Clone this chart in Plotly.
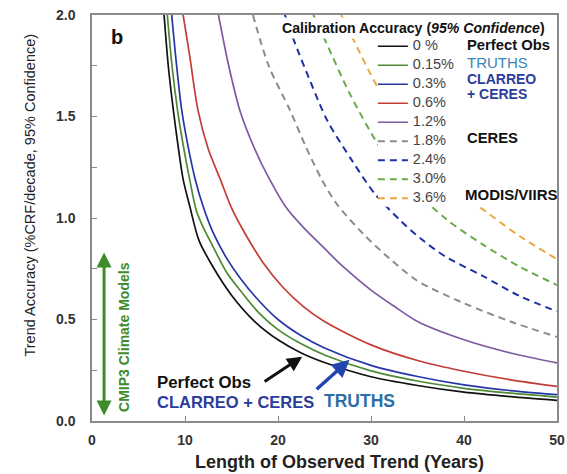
import plotly.graph_objects as go

# ---- data ----
names = ["0 %", "0.15%", "0.3%", "0.6%", "1.2%", "1.8%", "2.4%", "3.0%", "3.6%"]

x_0 = [7.75, 8.2, 8.75, 9.3, 9.8, 10.5, 11.5, 13, 15, 17.5, 20, 22.5, 25, 30, 35, 40, 45, 50]
y_0 = [2.0, 1.75, 1.53, 1.34, 1.19, 1.06, 0.89, 0.76, 0.62, 0.49, 0.40, 0.335, 0.288, 0.218, 0.175, 0.142, 0.120, 0.102]

x_015 = [8.1, 8.6, 9.2, 9.8, 10.5, 11.2, 12, 13, 14.5, 16, 18, 20, 22.5, 25, 30, 35, 40, 45, 50]
y_015 = [2.0, 1.75, 1.53, 1.36, 1.19, 1.04, 0.95, 0.86, 0.73, 0.64, 0.53, 0.45, 0.38, 0.325, 0.247, 0.197, 0.161, 0.137, 0.118]

x_03 = [8.57, 9.1, 9.65, 10.3, 11.1, 12, 13, 14.5, 16, 18, 20, 22.5, 25, 30, 35, 40, 45, 50]
y_03 = [2.0, 1.75, 1.53, 1.36, 1.19, 1.05, 0.93, 0.80, 0.70, 0.59, 0.50, 0.42, 0.36, 0.274, 0.219, 0.178, 0.150, 0.130]

x_06 = [9.8, 10.5, 11.4, 12.5, 13.8, 15, 16.5, 18.4, 20.5, 22.7, 25, 30, 35, 40, 45, 50]
y_06 = [2.0, 1.80, 1.53, 1.34, 1.19, 1.05, 0.92, 0.78, 0.66, 0.565, 0.49, 0.375, 0.298, 0.245, 0.203, 0.171]

x_12 = [13.6, 14.7, 15.9, 17.5, 19.1, 20.9, 22.7, 25, 27, 30, 32.5, 35, 40, 45, 50]
y_12 = [2.0, 1.75, 1.53, 1.34, 1.19, 1.05, 0.955, 0.85, 0.76, 0.645, 0.565, 0.49, 0.40, 0.335, 0.286]

x_18 = [17.3, 19, 21.3, 23, 24.7, 26.3, 29.2, 32, 35, 40, 45, 50]
y_18 = [2.0, 1.75, 1.53, 1.35, 1.19, 1.07, 0.92, 0.80, 0.69, 0.58, 0.49, 0.414]

x_24 = [20.75, 21.7, 23.5, 25.3, 28, 30.4, 33.1, 35.3, 38, 42, 46, 50]
y_24 = [2.0, 1.876, 1.67, 1.48, 1.28, 1.12, 0.99, 0.90, 0.81, 0.715, 0.615, 0.54]

x_30 = [23.8, 25.2, 27.7, 30.8, 34, 38.1, 42, 46, 50]
y_30 = [2.0, 1.862, 1.614, 1.36, 1.17, 0.994, 0.87, 0.76, 0.67]

x_36 = [26.8, 28.1, 30.8, 34, 37, 40, 42.4, 46, 50]
y_36 = [2.0, 1.879, 1.638, 1.43, 1.26, 1.11, 1.03, 0.91, 0.797]

xs = [x_0, x_015, x_03, x_06, x_12, x_18, x_24, x_30, x_36]
ys = [y_0, y_015, y_03, y_06, y_12, y_18, y_24, y_30, y_36]

x_ticks = [0, 10, 20, 30, 40, 50]
y_ticks = [0, 0.25, 0.5, 0.75, 1.0, 1.25, 1.5, 1.75, 2.0]
y_ticktext = ["0.0", "", "0.5", "", "1.0", "", "1.5", "", "2.0"]

# ---- styles ----
colors = ["#111111", "#4c8a34", "#2536a8", "#c43c36", "#7d5aa3",
          "#8c8c8c", "#1f30a6", "#6aaa4c", "#eaa843"]
dashes = ["solid"] * 5 + ["7px,5px"] * 4
widths = [1.7] * 5 + [2.0] * 4

fig = go.Figure()
for n, x, y, c, d, w in zip(names, xs, ys, colors, dashes, widths):
    fig.add_trace(go.Scatter(x=x, y=y, mode="lines",
                             name='<span style="font-size:14.5px">' + n + "</span>",
                             line=dict(color=c, width=w, dash=d, shape="spline", smoothing=0.8)))

font_fam = "Liberation Sans, Arial, sans-serif"

fig.update_layout(
    width=567, height=474,
    margin=dict(l=92, r=10, t=15, b=52.5),
    paper_bgcolor="white", plot_bgcolor="white",
    font=dict(family=font_fam, color="#222"),
    showlegend=True,
    legend=dict(x=0.604, y=0.9588, xanchor="left", yanchor="top",
                bgcolor="rgba(0,0,0,0)", borderwidth=0,
                font=dict(size=10.2, color="#444"),
                tracegroupgap=0, itemwidth=30),
    xaxis=dict(range=[0, 50], tickvals=x_ticks, ticks="inside", ticklen=5,
               tickcolor="#888", showline=True, linecolor="#8a8a8a", linewidth=1.5,
               mirror=True, showgrid=False, zeroline=False, automargin=False,
               ticklabelstandoff=5,
               tickfont=dict(size=14, color="#333", weight="bold")),
    yaxis=dict(range=[0, 2.0], tickvals=y_ticks, ticktext=y_ticktext, ticks="inside",
               ticklen=5, tickcolor="#888", showline=True, linecolor="#8a8a8a",
               linewidth=1.5, mirror=True, showgrid=False, zeroline=False,
               automargin=False, ticklabelstandoff=12,
               tickfont=dict(size=14, color="#333", weight="bold")),
    shapes=[dict(type="rect", xref="paper", yref="paper", x0=0.615, x1=0.996,
                 y0=0.528, y1=0.943, fillcolor="white", line=dict(width=0),
                 layer="above")],
)

annos = [
    # axis titles
    dict(text="<b>Length of Observed Trend (Years)</b>", x=0.533, y=-0.102,
         xanchor="center", font=dict(size=18, color="#222")),
    dict(text="Trend Accuracy (%CRF/decade, 95% Confidence)", x=-0.134, y=0.557,
         xanchor="center", textangle=-90, font=dict(size=14.5, color="#222")),
    # legend title
    dict(text="<b>Calibration Accuracy (<i>95% Confidence</i>)</b>", x=0.402, y=0.968,
         font=dict(size=14.1, color="#111"), bgcolor="white", borderpad=2),
    # labels beside legend
    dict(text="<b>Perfect Obs</b>", x=0.802, y=0.925, font=dict(size=14.8, color="#111")),
    dict(text="TRUTHS", x=0.802, y=0.882, height=13, font=dict(size=15, color="#3a84b8")),
    dict(text="<b>CLARREO</b>", x=0.802, y=0.843, height=12, font=dict(size=14, color="#2c3c9c")),
    dict(text="<b>+ CERES</b>", x=0.802, y=0.806, height=12, font=dict(size=14, color="#2c3c9c")),
    dict(text="<b>CERES</b>", x=0.802, y=0.696, font=dict(size=14.8, color="#111")),
    dict(text="<b>MODIS/VIIRS</b>", x=0.798, y=0.557, font=dict(size=15, color="#111")),
    # panel letter
    dict(text="<b>b</b>", x=0.054, y=0.947, xanchor="center", font=dict(size=20, color="#111")),
    # bottom labels
    dict(text="<b>Perfect Obs</b>", x=0.135, y=0.095, font=dict(size=16.8, color="#111")),
    dict(text="<b>CLARREO + CERES</b>", x=0.135, y=0.0463, font=dict(size=16.5, color="#2c3c9c")),
    dict(text="<b>TRUTHS</b>", x=0.495, y=0.049, font=dict(size=17.5, color="#2e6ea6")),
    # CMIP3 label
    dict(text="<b>CMIP3 Climate Models</b>", x=0.0675, y=0.208, xanchor="center",
         textangle=-90, font=dict(size=14, color="#3c8c2c")),
]
for a in annos:
    a.setdefault("xref", "paper")
    a.setdefault("yref", "paper")
    a.setdefault("xanchor", "left")
    a.setdefault("yanchor", "middle")
    a.setdefault("showarrow", False)
    fig.add_annotation(**a)

# CMIP3 double arrow
fig.add_annotation(x=1.3, y=0.83, ax=1.3, ay=0.02, xref="x", yref="y", axref="x", ayref="y",
                   text="", showarrow=True, arrowhead=2, arrowside="end+start",
                   arrowsize=1.0, arrowwidth=3, arrowcolor="#3c8c2c")
# pointer arrows
fig.add_annotation(x=22.6, y=0.317, ax=18.4, ay=0.19, xref="x", yref="y", axref="x", ayref="y",
                   text="", showarrow=True, arrowhead=2, arrowsize=1.0, arrowwidth=3,
                   arrowcolor="#111")
fig.add_annotation(x=27.7, y=0.302, ax=24.0, ay=0.15, xref="x", yref="y", axref="x", ayref="y",
                   text="", showarrow=True, arrowhead=2, arrowsize=1.0, arrowwidth=3.5,
                   arrowcolor="#2244b0")

fig.write_html("out.html", config={"displayModeBar": False},
               post_script="document.body.style.margin='0';document.body.style.padding='0';")
